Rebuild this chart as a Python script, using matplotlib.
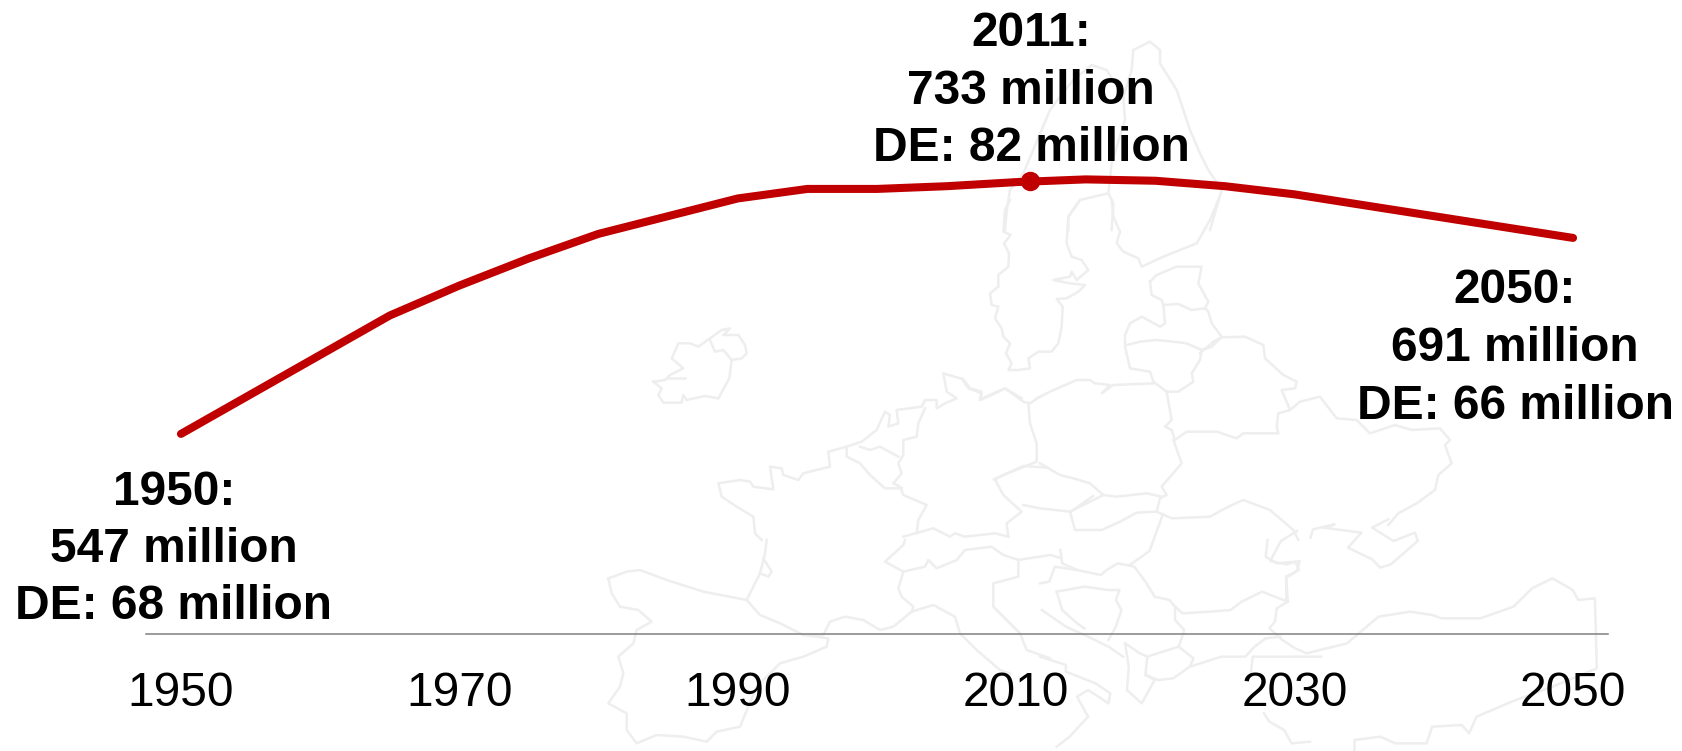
import matplotlib
matplotlib.use('Agg')
import matplotlib.pyplot as plt

# 人口数据 (百万)
years = [1950, 1955, 1960, 1965, 1970, 1975, 1980, 1985, 1990, 1995, 2000, 2005, 2010, 2015, 2020, 2025, 2030, 2035, 2040, 2045, 2050]
population = [547, 576, 605, 634, 656, 676, 694, 707, 720, 727, 727, 729, 732, 734, 733, 729, 723, 715, 707, 699, 691]
peak_year = 2011
peak_value = 733
tick_years = [1950, 1970, 1990, 2010, 2030, 2050]
label_years = [1950, 2011, 2050]
label_values = [547, 733, 691]
label_lines = [['1950:', '547 million', 'DE: 68 million'],
               ['2011:', '733 million', 'DE: 82 million'],
               ['2050:', '691 million', 'DE: 66 million']]

W, H = 1682, 751
RED = '#c00000'
MAP = '#eeeeee'


# 背景地图: 描摹的轮廓, 只是装饰 (放大图坐标 -> 像素)
def z(ox, oy, sx, pts):
    return [(ox + a / sx, oy + b / 3.0) for a, b in pts]


outlines = [
    # 北欧
    z(960, 30, 3, [(135, 600), (140, 545), (150, 480), (190, 430), (270, 240), (300, 200), (340, 150), (395, 105), (440, 120), (490, 200), (495, 270), (455, 400), (445, 490), (360, 510), (325, 560), (325, 600)]),
    z(960, 30, 3, [(445, 490), (460, 520), (455, 600)]),
    z(960, 30, 3, [(490, 200), (515, 120), (520, 60), (570, 35), (600, 60), (600, 100), (650, 180), (690, 300), (720, 370), (745, 420), (785, 480), (750, 600)]),
    z(960, 200, 3, [(150, 0), (135, 30), (130, 95), (152, 105), (132, 130), (147, 160), (145, 200), (115, 225), (115, 260), (90, 280), (95, 315), (115, 320), (105, 355), (125, 385), (130, 410), (150, 430), (138, 460), (155, 490), (145, 510), (175, 510), (210, 505), (205, 475), (235, 455), (275, 455), (295, 430), (305, 380), (308, 320), (290, 297), (320, 295), (355, 275), (375, 255), (330, 250), (280, 240), (330, 230), (335, 215), (350, 240), (385, 210), (365, 180), (335, 170), (320, 130), (325, 50), (360, 0)]),
    z(960, 200, 3, [(455, 0), (460, 50), (480, 95), (470, 130), (490, 155), (535, 175), (545, 200), (610, 170), (710, 130), (750, 60), (775, 0)]),
    # 波罗的海
    z(960, 200, 3, [(570, 245), (590, 225), (650, 200), (725, 200), (715, 250), (745, 305), (735, 325), (695, 330), (655, 312), (610, 315), (605, 300), (575, 285), (570, 245)]),
    z(960, 200, 3, [(610, 315), (615, 370), (600, 380), (545, 350), (510, 370), (495, 405), (495, 440), (510, 505), (570, 515), (580, 545), (620, 575), (655, 575), (700, 545), (695, 520), (720, 480), (725, 450)]),
    z(960, 200, 3, [(500, 435), (540, 425), (590, 420), (640, 425), (680, 430), (725, 450), (755, 440), (785, 410), (755, 370), (745, 335), (735, 325)]),
    z(960, 200, 3, [(580, 550), (460, 555), (425, 580), (450, 555), (405, 550), (390, 540), (350, 540), (270, 575), (230, 595)]),
    z(960, 200, 3, [(5, 535), (25, 565), (65, 580), (60, 600), (95, 585), (135, 565), (185, 595)]),
    # 白俄罗斯 乌克兰
    z(1040, 320, 3, [(480, 100), (520, 65), (545, 52), (615, 50), (670, 75), (675, 115), (730, 165), (770, 185), (765, 205), (725, 210), (750, 270), (715, 280), (710, 320), (715, 340), (650, 340), (610, 340), (590, 355), (530, 335), (440, 335), (405, 360), (395, 330), (375, 320), (395, 300), (380, 215)]),
    z(1040, 320, 3, [(750, 270), (780, 245), (840, 230), (890, 295), (950, 300), (990, 340), (1065, 315), (1115, 330), (1200, 325), (1230, 360), (1215, 375), (1235, 430), (1195, 465), (1185, 510), (1130, 550), (1075, 580), (1045, 615)]),
    z(1040, 320, 3, [(400, 360), (425, 430), (365, 500), (380, 525), (360, 535), (350, 575), (395, 595), (510, 590), (565, 560), (610, 540), (690, 570), (760, 630), (775, 660)]),
    z(1040, 320, 3, [(0, 430), (60, 465), (100, 475), (150, 490), (190, 525), (230, 530), (320, 520), (365, 530)]),
    z(1040, 320, 3, [(-50, 555), (0, 565), (90, 575), (105, 630), (185, 630), (240, 605), (290, 578), (350, 575)]),
    z(1040, 320, 3, [(90, 575), (150, 545), (190, 525)]),
    # 爱尔兰
    z(640, 320, 3, [(40, 185), (75, 180), (90, 165), (130, 145), (95, 115), (115, 70), (150, 70), (175, 80), (210, 55), (245, 30), (270, 25), (250, 45), (295, 45), (315, 75), (320, 100), (305, 115), (275, 120), (268, 175), (235, 235), (195, 228), (140, 240), (130, 225), (125, 248), (70, 248), (55, 225), (65, 205), (40, 185)]),
    z(640, 320, 3, [(210, 60), (225, 95), (250, 90), (275, 120)]),
    z(640, 320, 3, [(85, 175), (135, 175)]),
    # 法国 荷比 德国
    z(640, 320, 3, [(365, 660), (345, 640), (340, 590), (290, 560), (245, 530), (235, 490), (300, 480), (330, 485), (340, 500), (400, 508), (390, 440), (425, 445), (430, 465), (475, 480), (490, 460), (570, 440), (565, 395), (620, 380), (665, 365), (710, 330), (735, 275), (750, 285), (745, 320), (775, 310), (770, 270), (845, 260), (855, 240), (890, 240), (890, 265), (915, 250), (950, 235), (920, 215), (910, 160), (970, 178), (990, 205), (1025, 215), (1020, 238), (1095, 205), (1150, 245), (1170, 250), (1200, 230)]),
    z(640, 320, 3, [(1165, 250), (1170, 310), (1190, 370), (1190, 425), (1165, 435), (1090, 465), (1065, 478), (1090, 525), (1145, 575), (1100, 610), (1105, 650)]),
    z(640, 320, 3, [(855, 265), (835, 310), (830, 350), (790, 360), (790, 405), (775, 430), (785, 460), (760, 490), (780, 500), (790, 525), (860, 555), (835, 600), (830, 640)]),
    z(640, 320, 3, [(620, 380), (620, 410), (660, 430), (690, 465), (735, 505), (785, 505)]),
    z(640, 320, 3, [(775, 410), (720, 380), (690, 390), (660, 380)]),
    z(640, 320, 3, [(790, 650), (880, 625), (930, 650), (945, 640), (975, 650), (1065, 640), (1105, 650)]),
    # 西班牙 法国南部 意大利
    z(590, 540, 3, [(530, 0), (525, 40), (510, 100), (470, 180)]),
    z(590, 540, 3, [(520, 55), (545, 95), (535, 110), (510, 100)]),
    z(590, 540, 3, [(55, 115), (110, 95), (150, 90), (230, 120), (340, 155), (470, 180), (510, 225), (570, 250), (640, 285), (715, 295), (710, 320), (640, 350), (570, 370), (500, 440), (450, 560), (380, 575), (350, 605), (280, 590), (200, 585), (140, 610), (110, 570), (110, 520), (55, 490), (90, 440), (100, 400), (85, 350), (130, 310), (140, 270), (185, 245), (145, 210), (90, 200), (65, 160), (55, 115)]),
    z(590, 540, 3, [(640, 285), (700, 285), (720, 245), (765, 230), (820, 240), (870, 270), (910, 260), (965, 215), (970, 200), (935, 170), (925, 145), (940, 95), (885, 65), (940, 15), (945, 0)]),
    z(590, 540, 3, [(940, 95), (1005, 80), (1015, 60), (1040, 85), (1100, 60), (1125, 30), (1205, 20), (1240, 45), (1285, 60), (1380, 45), (1413, 54)]),
    z(590, 540, 3, [(965, 215), (1030, 195), (1095, 230), (1110, 280), (1160, 330), (1230, 390), (1260, 400)]),
    z(590, 540, 3, [(1285, 60), (1285, 110), (1210, 130), (1210, 200), (1290, 280), (1310, 330), (1380, 355)]),
    z(1040, 540, 2.703, [(0, 350), (70, 375), (70, 395), (150, 430), (190, 460), (185, 490), (130, 450), (100, 470), (130, 530), (80, 590), (45, 620)]),
    # 巴尔干
    z(1040, 540, 2.703, [(55, 30), (60, 70), (100, 90), (165, 105), (180, 90), (210, 70), (255, 80), (285, 125), (310, 170), (350, 180), (365, 200), (385, 220), (460, 215), (515, 210), (545, 185), (600, 155), (670, 185), (665, 110), (700, 90), (690, 65), (640, 70), (610, 50), (615, 0)]),
    z(1040, 540, 2.703, [(670, 185), (640, 205), (635, 245), (620, 265), (655, 300), (690, 325), (720, 340), (830, 310), (915, 230), (1000, 215), (1060, 225), (1085, 235), (1190, 235), (1280, 200), (1330, 145), (1385, 115), (1440, 150), (1455, 180), (1500, 175), (1505, 385), (1385, 440), (1275, 485), (1180, 530), (1160, 580), (1140, 555), (1060, 560), (1045, 610), (960, 610), (920, 590), (850, 600), (850, 630)]),
    z(1040, 540, 2.703, [(365, 200), (365, 240), (390, 270), (375, 320), (415, 355), (405, 380), (490, 350), (555, 350), (580, 320), (610, 295), (650, 290)]),
    z(1040, 540, 2.703, [(375, 320), (290, 350), (285, 405), (320, 420), (360, 415), (405, 380)]),
    z(1040, 540, 2.703, [(230, 310), (240, 380), (235, 450), (275, 490), (310, 420), (285, 405)]),
    z(1040, 540, 2.703, [(230, 310), (270, 340), (290, 350)]),
    z(1040, 540, 2.703, [(570, 400), (575, 350), (650, 350), (760, 350)]),
    z(1040, 540, 2.703, [(605, 520), (620, 545), (660, 570), (680, 610), (730, 605)]),
    z(1040, 540, 2.703, [(45, 155), (120, 140), (185, 150), (215, 150), (205, 180), (220, 210), (205, 260), (185, 300)]),
    z(1040, 540, 2.703, [(45, 155), (60, 210), (100, 250), (120, 265)]),
    z(1040, 540, 2.703, [(5, 210), (70, 260), (130, 290), (185, 320), (225, 350)]),
    z(1040, 540, 2.703, [(0, 130), (25, 125), (40, 80), (100, 90)]),
    # 中欧 黑海
    z(841, 351, 1.864, [(285, 385), (340, 345), (385, 350)]),
    z(841, 351, 1.864, [(430, 480), (470, 435)]),
    z(841, 351, 1.864, [(850, 540), (820, 570), (800, 630), (830, 640), (855, 630), (850, 660), (830, 680), (830, 750)]),
    z(841, 351, 1.864, [(600, 490), (575, 600), (540, 640)]),
    z(841, 351, 1.864, [(875, 560), (880, 535), (920, 520), (900, 530), (970, 545), (945, 590), (990, 625), (1005, 650), (1025, 640), (1075, 570), (1070, 545), (1030, 570), (990, 530), (1020, 505)]),
]

plt.rcParams['font.family'] = ['Liberation Sans', 'DejaVu Sans']
fig = plt.figure(figsize=(W / 100, H / 100), dpi=100, facecolor='w')

# 地图放在最底层
bg = fig.add_axes([0, 0, 1, 1], zorder=0)
bg.set_xlim(0, W)
bg.set_ylim(H, 0)
bg.axis('off')
for pts in outlines:
    bg.plot([p[0] for p in pts], [p[1] for p in pts], color=MAP, lw=1.8, solid_joinstyle='round')

# 坐标轴 left=146 right=1608 bottom=634px
ax = fig.add_axes([146 / W, 1 - 634 / H, (1608 - 146) / W, 634 / H], zorder=1)
ax.patch.set_alpha(0)
ax.set_xlim(1947.49, 2052.51)
ax.set_ylim(400, 865.8)
ax.plot(years, population, color=RED, lw=5.8, solid_capstyle='round', solid_joinstyle='round', clip_on=False)
ax.plot([peak_year], [peak_value], 'o', color=RED, ms=14, mew=0)

for s in ['top', 'left', 'right']:
    ax.spines[s].set_visible(False)
ax.spines['bottom'].set_color('#808080')
ax.spines['bottom'].set_linewidth(1.1)
ax.set_yticks([])
ax.set_xticks(tick_years)
ax.set_xticklabels([str(t) for t in tick_years])
ax.tick_params(axis='x', length=0, pad=27, labelsize=34.5, labelcolor='k')

# 标注 (相对数据点的像素偏移: 文字中心x, 三行基线y)
offsets = [(-7, [-71, -128, -185]), (1, [135, 77, 20]), (-58, [-65, -123, -181])]
for yr, val, lines, (dx, dys) in zip(label_years, label_values, label_lines, offsets):
    for line, dy in zip(lines, dys):
        ax.annotate(line, xy=(yr, val), xytext=(dx, dy), textcoords='offset pixels',
                    ha='center', va='baseline', fontsize=34.5, fontweight='bold', color='k')

plt.savefig('out.png', dpi=100)
